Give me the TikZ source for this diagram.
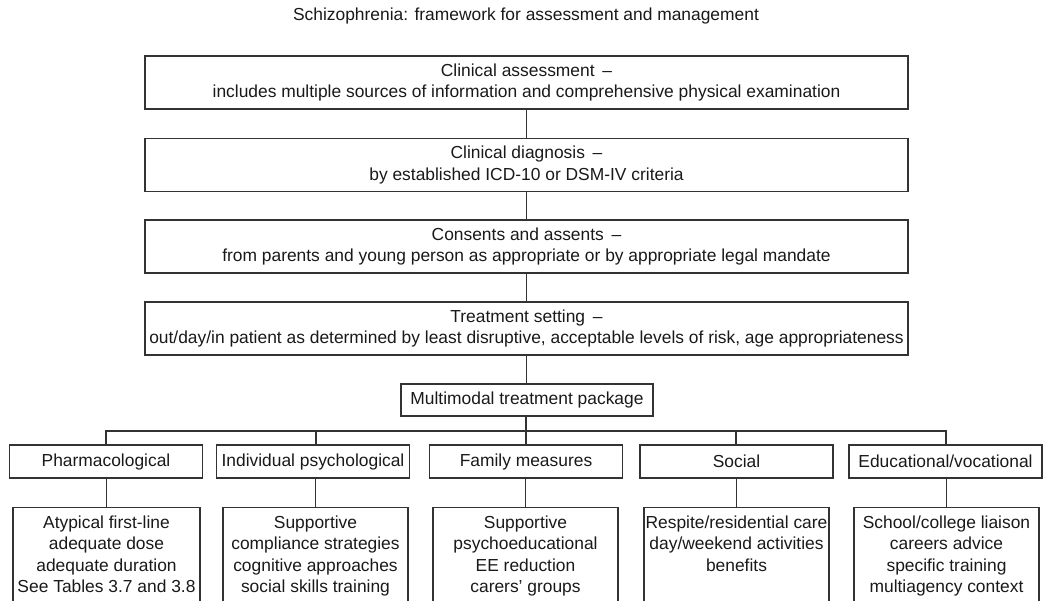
\documentclass[tikz,border=0pt]{standalone}
\usepackage{fontspec}
\setmainfont{Liberation Sans}
\begin{document}
\begin{tikzpicture}[x=1pt,y=-1pt,
  every node/.style={font=\fontsize{17.4}{21.5}\selectfont, inner sep=0pt, text=black!90},
  wire/.style={draw=black!80, line width=1.2pt},
  stagebox/.style={wire, minimum width=763, minimum height=53, align=center},
  hubbox/.style={wire, minimum width=252, minimum height=32},
  branchbox/.style={wire, minimum width=193, minimum height=33},
  detailbox/.style={wire, anchor=north, inner xsep=0pt, inner ysep=8pt}
]
\useasboundingbox (0,0) rectangle (1046,601);
\clip (0,0) rectangle (1046,601);

% title
\node (title) at (526,16) {Schizophrenia: framework for assessment and management};

% main sequence of stages
\node[stagebox] (assess) at (526.5,82.5)
  {Clinical assessment \,--\\includes multiple sources of information and comprehensive physical examination};
\node[stagebox] (diag) at (526.5,165)
  {Clinical diagnosis \,--\\by established ICD-10 or DSM-IV criteria};
\node[stagebox] (consent) at (526.5,246.5)
  {Consents and assents \,--\\from parents and young person as appropriate or by appropriate legal mandate};
\node[stagebox] (setting) at (526.5,328.5)
  {Treatment setting \,--\\out/day/in patient as determined by least disruptive, acceptable levels of risk, age appropriateness};

\node[hubbox] (pkg) at (527,400) {Multimodal treatment package};

\draw[wire] (assess) -- (diag);
\draw[wire] (diag) -- (consent);
\draw[wire] (consent) -- (setting);
\draw[wire] (setting) -- (setting.south |- pkg.north);

% treatment branches
\node[branchbox] (pharm) at (106,461.5) {Pharmacological};
\node[branchbox] (indiv) at (313,461.5) {Individual psychological};
\node[branchbox] (family) at (526,461.5) {Family measures};
\node[branchbox] (social) at (736.5,461.5) {Social};
\node[branchbox] (edu) at (945.5,461.5) {Educational/vocational};

\coordinate (bus) at (526,431);
\draw[wire] (pkg.south -| bus) -- (bus);
\draw[wire] (106,445) |- (bus) -| (946,445);
\draw[wire] (316,445) -- (316,431);
\draw[wire] (526,445) -- (bus);
\draw[wire] (736,445) -- (736,431);

% details under each branch
\node[detailbox] (pharmd) at (106.5,507) {\parbox[c][104pt][t]{187pt}{\centering
  Atypical first-line\\adequate dose\\adequate duration\\See Tables 3.7 and 3.8}};
\node[detailbox] (indivd) at (315.5,507) {\parbox[c][104pt][t]{185pt}{\centering
  Supportive\\compliance strategies\\cognitive approaches\\social skills training}};
\node[detailbox] (familyd) at (525.5,507) {\parbox[c][104pt][t]{185pt}{\centering
  Supportive\\psychoeducational\\EE reduction\\carers' groups}};
\node[detailbox] (sociald) at (736.5,507) {\parbox[c][104pt][t]{185pt}{\centering
  Respite/residential care\\day/weekend activities\\benefits}};
\node[detailbox] (edud) at (946.5,507) {\parbox[c][104pt][t]{185pt}{\centering
  School/college liaison\\careers advice\\specific training\\multiagency context}};

\draw[wire] (pharm.south -| pharmd.north) -- (pharmd.north);
\draw[wire] (indiv.south -| indivd.north) -- (indivd.north);
\draw[wire] (family.south -| familyd.north) -- (familyd.north);
\draw[wire] (social.south -| sociald.north) -- (sociald.north);
\draw[wire] (edu.south -| edud.north) -- (edud.north);
\end{tikzpicture}
\end{document}
